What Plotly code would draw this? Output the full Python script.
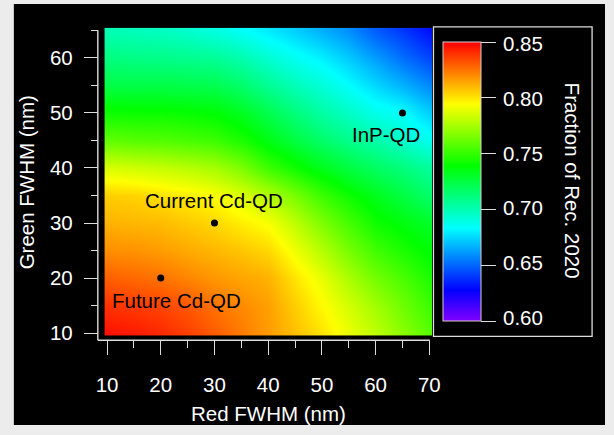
import plotly.graph_objects as go

W, H = 614, 435

# Grid of the simulated colour-gamut coverage
red_fwhm = [10, 15, 20, 25, 30, 35, 40, 45, 50, 55, 60, 65, 70]
green_fwhm = [10, 15, 20, 25, 30, 35, 40, 45, 50, 55, 60, 65]
rec2020_fraction = [
    [.846, .844, .841, .836, .830, .823, .816, .808, .800, .790, .780, .769, .758],
    [.839, .837, .835, .831, .825, .820, .815, .805, .795, .785, .774, .763, .752],
    [.829, .827, .825, .821, .817, .814, .811, .800, .789, .776, .764, .755, .745],
    [.819, .818, .816, .813, .810, .807, .803, .791, .778, .765, .753, .745, .738],
    [.811, .810, .809, .806, .803, .798, .793, .780, .766, .754, .742, .736, .730],
    [.805, .804, .801, .798, .794, .787, .778, .765, .752, .742, .733, .725, .716],
    [.786, .784, .782, .779, .775, .766, .752, .742, .733, .725, .718, .712, .705],
    [.760, .758, .757, .755, .752, .745, .735, .725, .716, .709, .702, .695, .687],
    [.742, .741, .741, .740, .738, .732, .722, .712, .703, .696, .688, .684, .673],
    [.724, .724, .724, .723, .722, .716, .707, .699, .692, .684, .675, .667, .658],
    [.711, .710, .709, .708, .706, .701, .693, .686, .680, .672, .662, .652, .643],
    [.700, .698, .697, .694, .690, .685, .679, .673, .666, .659, .648, .640, .631],
]

# Quantum-dot materials marked on the map
qd_names = ["Future Cd-QD", "Current Cd-QD", "InP-QD"]
qd_red = [20, 30, 65]
qd_green = [20, 30, 50]
label_red = [23, 30, 62]
label_green = [16, 34, 46]

cbar_ticks = [0.60, 0.65, 0.70, 0.75, 0.80, 0.85]
cbar_min, cbar_max = 0.60, 0.85

# Rainbow: red (high) through yellow, green, cyan, blue to purple (low)
rainbow = [
    [0.0, "#8000ff"],
    [1 / 9, "#0000ff"],
    [3 / 9, "#00ffff"],
    [5 / 9, "#00ff00"],
    [7 / 9, "#ffff00"],
    [1.0, "#ff0000"],
]

FONT = "Liberation Sans, Arial, Helvetica, sans-serif"
FS = 20.5
LINE = "#dddddd"

# Colour-bar geometry (pixels)
CB_LEFT, CB_THICK = 446.7, 38
CB_TOP, CB_BOTTOM = 45.7, 324.3


def fx(px):
    return px / W


def fy(py):
    return 1 - py / H


fig = go.Figure()

fig.add_trace(go.Heatmap(
    x=red_fwhm, y=green_fwhm, z=rec2020_fraction,
    zmin=cbar_min, zmax=cbar_max, colorscale=rainbow, zsmooth="best",
    hoverinfo="skip",
    colorbar=dict(
        x=fx(CB_LEFT), xanchor="left", xpad=0,
        y=fy((CB_TOP + CB_BOTTOM) / 2), yanchor="middle", ypad=0,
        lenmode="pixels", len=CB_BOTTOM - CB_TOP,
        thicknessmode="pixels", thickness=CB_THICK,
        outlinewidth=1, outlinecolor="#d8cccc",
        ticks="outside", ticklen=15, tickwidth=1.3, tickcolor=LINE,
        tickvals=cbar_ticks, showticklabels=False,
        borderwidth=0,
    ),
))

fig.add_trace(go.Scatter(
    x=qd_red, y=qd_green, mode="markers",
    marker=dict(color="black", size=7),
    hoverinfo="skip", showlegend=False,
))

for name, xr, yg in zip(qd_names, label_red, label_green):
    fig.add_annotation(
        x=xr, y=yg, text=name, showarrow=False,
        xanchor="center", yanchor="middle",
        font=dict(family=FONT, size=FS, color="black"),
    )

# Colour-bar tick labels
for v in cbar_ticks:
    py = CB_BOTTOM - (v - cbar_min) / (cbar_max - cbar_min) * (CB_BOTTOM - CB_TOP)
    fig.add_annotation(
        xref="paper", yref="paper", x=fx(507), y=fy(py - 1),
        text=f"{v:.2f}", showarrow=False,
        xanchor="left", yanchor="middle",
        font=dict(family=FONT, size=FS, color="white"),
    )

axis_common = dict(
    showgrid=False, zeroline=False, showline=False,
    ticks="outside", ticklen=14, tickwidth=1.3, tickcolor=LINE,
    tickfont=dict(family=FONT, size=FS, color="white"),
    anchor="free",
)

fig.update_layout(
    width=W, height=H,
    margin=dict(l=0, r=0, t=0, b=0),
    paper_bgcolor="#ececec",
    plot_bgcolor="rgba(0,0,0,0)",
    showlegend=False,
    xaxis=dict(
        domain=[fx(98.233), fx(435.767)], range=[9.5, 70.5],
        tickvals=[10, 20, 30, 40, 50, 60, 70],
        minor=dict(ticks="outside", ticklen=7, tickwidth=1.3,
                   tickcolor=LINE, dtick=5, tick0=0),
        position=fy(346.7),
        ticklabelstandoff=12,
        **axis_common,
    ),
    yaxis=dict(
        domain=[fy(342.10), fy(28.16)], range=[9.5, 65.5],
        tickvals=[10, 20, 30, 40, 50, 60],
        minor=dict(ticks="outside", ticklen=7, tickwidth=1.3,
                   tickcolor=LINE, dtick=5, tick0=0),
        position=fx(91.5),
        ticklabelstandoff=7,
        **axis_common,
    ),
)

# Black figure panel, axis lines and the frame round the colour bar
fig.add_shape(type="rect", xref="paper", yref="paper",
              x0=fx(5), x1=fx(614), y0=fy(433), y1=fy(4),
              fillcolor="black", line=dict(width=0), layer="below")
fig.add_shape(type="line", xref="paper", yref="paper",
              x0=fx(91.5), x1=fx(91.5), y0=fy(346.7), y1=fy(30.7),
              line=dict(color=LINE, width=1.4))
fig.add_shape(type="line", xref="paper", yref="paper",
              x0=fx(91.5), x1=fx(433.6), y0=fy(346.7), y1=fy(346.7),
              line=dict(color=LINE, width=1.4))
fig.add_shape(type="rect", xref="paper", yref="paper",
              x0=fx(437.3), x1=fx(600.7), y0=fy(342.7), y1=fy(27.3),
              line=dict(color=LINE, width=1.3), fillcolor="rgba(0,0,0,0)")

# Axis and colour-bar titles
fig.add_annotation(xref="paper", yref="paper", x=fx(267), y=fy(421.7),
                   text="Red FWHM (nm)", showarrow=False,
                   xanchor="center", yanchor="middle",
                   font=dict(family=FONT, size=FS, color="white"))
fig.add_annotation(xref="paper", yref="paper", x=fx(18.3), y=fy(186),
                   text="Green FWHM (nm)", showarrow=False, textangle=-90,
                   xanchor="center", yanchor="middle",
                   font=dict(family=FONT, size=FS, color="white"))
fig.add_annotation(xref="paper", yref="paper", x=fx(580), y=fy(184),
                   text="Fraction of Rec. 2020", showarrow=False, textangle=90,
                   xanchor="center", yanchor="middle",
                   font=dict(family=FONT, size=FS, color="white"))

fig.write_html("out.html")
